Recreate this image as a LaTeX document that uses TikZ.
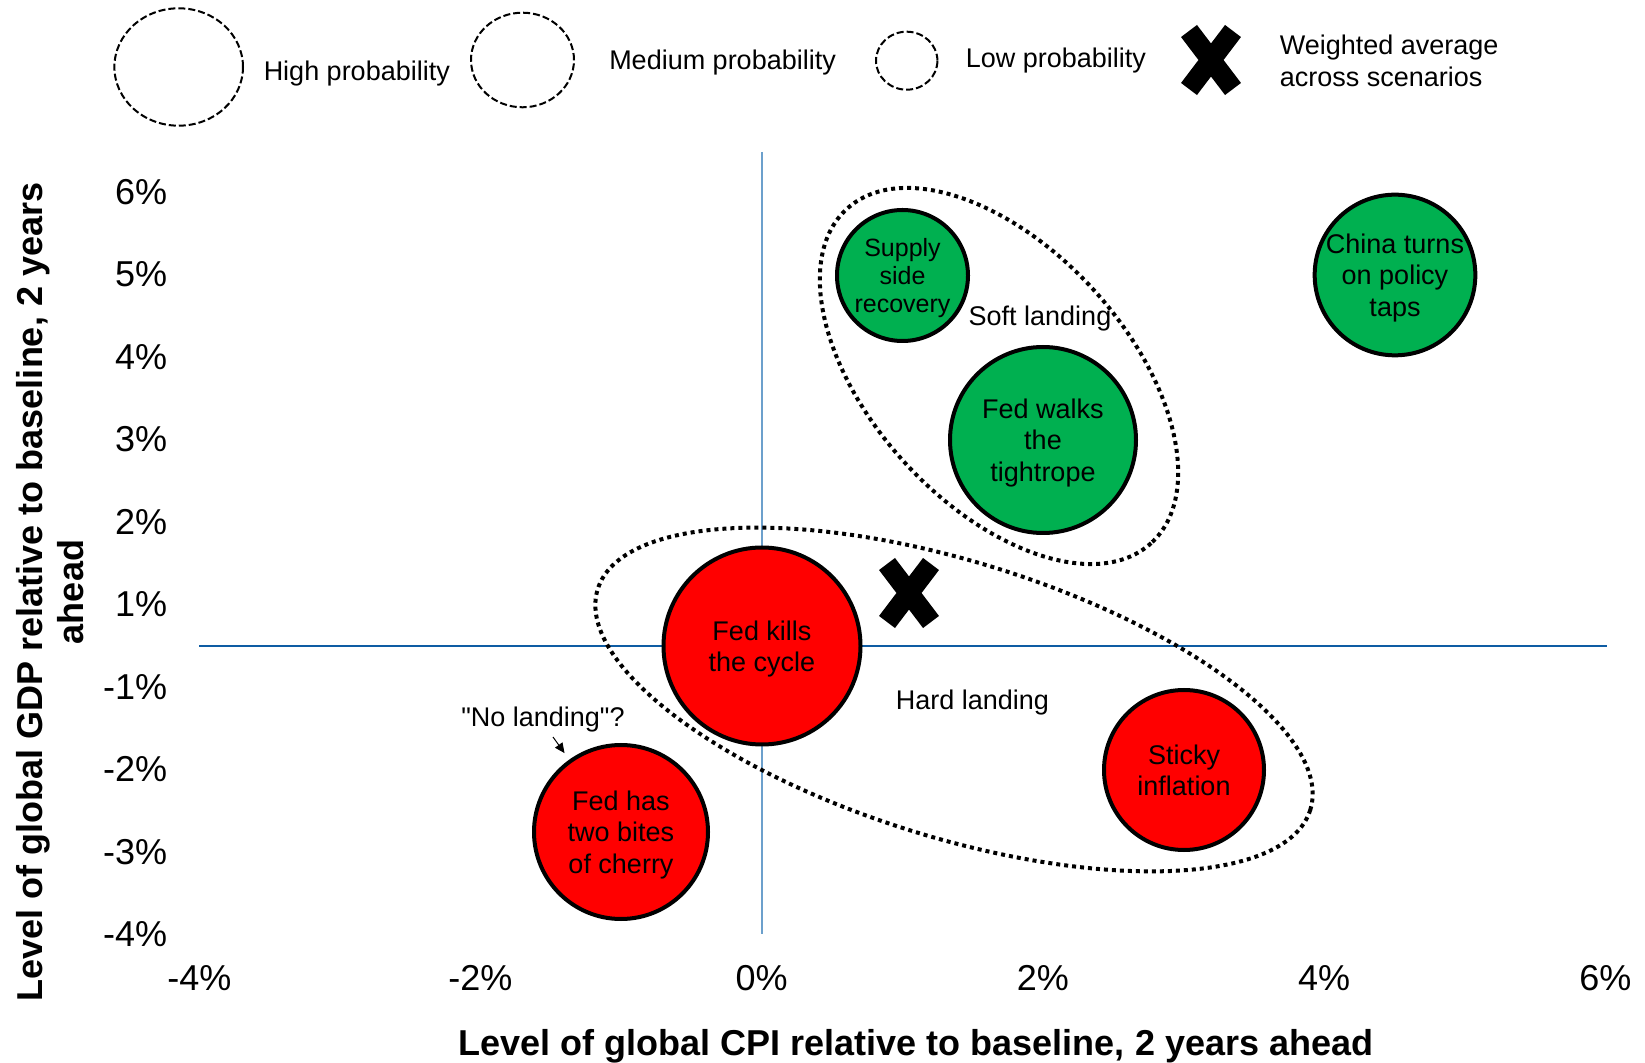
\documentclass[tikz,border=0pt]{standalone}
\usepackage{fontspec}
\setmainfont{Liberation Sans}[Ligatures=TeXOff]
\usetikzlibrary{arrows.meta,shapes.geometric}

\definecolor{scengreen}{RGB}{0,176,80}
\definecolor{scenred}{RGB}{255,0,0}
\definecolor{axisdark}{RGB}{14,92,163}
\definecolor{axislight}{RGB}{108,160,204}

\tikzset{every picture/.style={line width=0.75pt}}
\tikzset{
  scen/.style={circle, draw=black, line width=2pt, inner sep=0pt, align=center, text=black, text depth=0pt, font=\fontsize{13.5}{15.75}\selectfont},
  good/.style={scen, fill=scengreen},
  bad/.style={scen, fill=scenred},
  grouprim/.style={line width=2pt, dash pattern={on 2pt off 2pt}},
  legring/.style={ellipse, draw, line width=1pt, dash pattern={on 3.5pt off 1.5pt}, inner sep=0pt},
  legtext/.style={anchor=west, inner sep=0pt, align=left, font=\fontsize{13.5}{15.75}\selectfont},
  lbl/.style={inner sep=0pt, font=\fontsize{13.5}{15.75}\selectfont},
  tick/.style={inner sep=0pt, font=\fontsize{18}{21}\selectfont},
  axtitle/.style={inner sep=0pt, align=center, font=\fontsize{18}{20.5}\selectfont\bfseries},
  wavg/.pic={\draw[line width=10pt] (-22,-29) -- (22,29) (22,-29) -- (-22,29);}
}

\begin{document}
\begin{tikzpicture}[x=0.5pt,y=0.5pt,yscale=-1,xscale=1]
\useasboundingbox (0,0) rectangle (1645,1063);

%Legend
\node[legring, minimum width=64.3pt, minimum height=58.7pt] (hiring) at (178.7,67) {};
\node[legtext] (hitxt) at (263,74) {High probability};
\node[legring, minimum width=51.5pt, minimum height=47.3pt] (medring) at (522.5,60) {};
\node[legtext] (medtxt) at (608.5,63) {Medium probability};
\node[legring, minimum width=30.7pt, minimum height=29pt] (lowring) at (906.7,60.7) {};
\node[legtext] (lowtxt) at (965,61) {Low probability};
\pic at (1211,60) {wavg};
\node[legtext] (wavgtxt) at (1279,61) {Weighted average\\across scenarios};

%Straight Lines
\draw[axisdark, line width=1pt] (199,646) -- (1607,646);
%Straight Lines
\draw[axislight, line width=1pt] (762,152) -- (762,934);

%Tick labels
\foreach \v [count=\i] in {-4,-2,...,6}
  \node[tick] (xt\i) at ({761.7+140.6*\v},978) {\v\%};
\foreach \v [count=\i] in {6,5,4,3,2,1,-1,-2,-3,-4}
  \node[tick, anchor=east] (yt\i) at (168,{192+82.5*(\i-1)}) {\v\%};

%Axis titles
\node[axtitle] (xtitle) at (916,1046) {Level of global CPI relative to baseline, 2 years ahead};
\node[axtitle, rotate=90] (ytitle) at (50,592) {Level of global GDP relative to baseline, 2 years\\ahead};

%Shape: Ellipse
\draw[grouprim, rotate around={47.7:(999,376)}] (999,376) ellipse (113pt and 64pt);
%Shape: Ellipse
\draw[grouprim, rotate around={17.2:(954,699.5)}] (954,699.5) ellipse (186.5pt and 69pt);

%Scenarios
\node[good, minimum size=65.5pt, font=\fontsize{12.5}{14.2}\selectfont] (supply) at (902.5,275.5) {Supply\\side\\recovery};
\node[good, minimum size=79pt] (china) at (1395,275) {China turns\\on policy\\taps};
\node[good, minimum size=93pt] (walks) at (1043,440) {Fed walks\\the\\tightrope};
\node[bad, minimum size=98.5pt] (kills) at (762,646) {Fed kills\\the cycle};
\node[bad, minimum size=80pt] (sticky) at (1184,770) {Sticky\\inflation};
\node[bad, minimum size=87pt] (twobites) at (621,832) {Fed has\\two bites\\of cherry};

%Labels
\node[lbl] (softlbl) at (1040,319) {Soft landing};
\node[lbl] (hardlbl) at (972.5,703) {Hard landing};
\node[lbl] (nolbl) at (543,719.5) {"No landing"?};
\coordinate (nlarr) at (553,737);
\draw[-{Triangle[length=5pt,width=4.5pt]}, line width=0.5pt, shorten >=4pt] (nlarr) -- (twobites);

%Weighted average
\pic at (909,593) {wavg};

\end{tikzpicture}
\end{document}
